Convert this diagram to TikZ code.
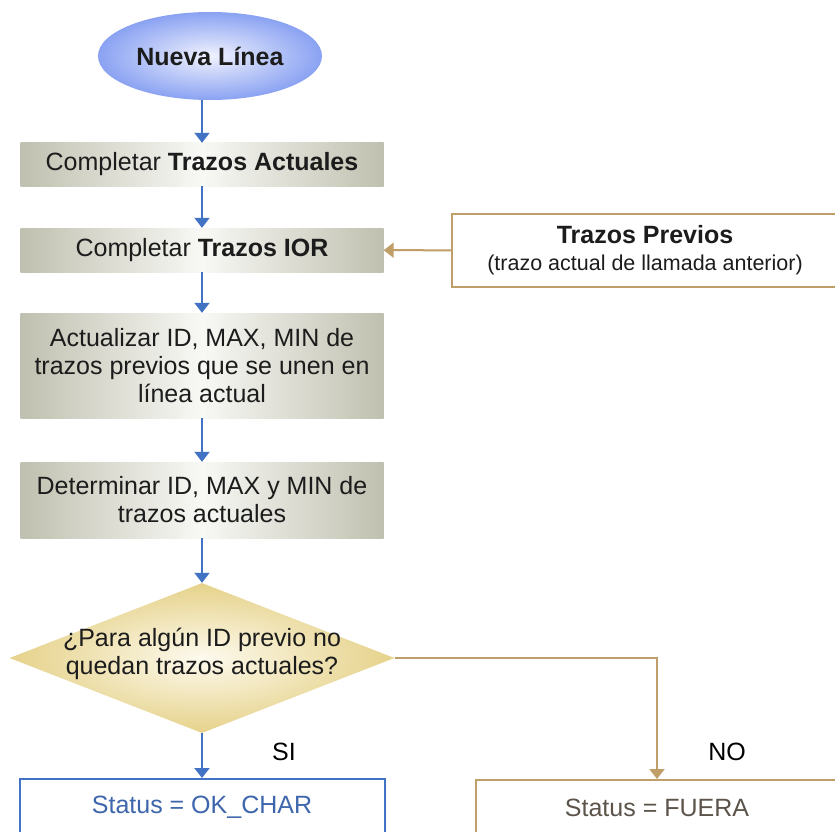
\documentclass[tikz,border=0pt]{standalone}
\usepackage{fontspec}
\setmainfont{Liberation Sans}
\usetikzlibrary{shapes.geometric,arrows.meta}

\definecolor{flowblue}{RGB}{66,114,196}
\definecolor{flowtan}{RGB}{192,158,104}
\definecolor{boxgray}{RGB}{192,192,176}
\definecolor{boxlight}{RGB}{248,248,245}
\definecolor{ellout}{RGB}{138,162,242}
\definecolor{ellin}{RGB}{240,242,254}
\definecolor{diaout}{RGB}{230,210,138}
\definecolor{diain}{RGB}{253,250,238}
\definecolor{oktext}{RGB}{62,102,172}
\definecolor{fueratext}{RGB}{92,84,74}
\definecolor{darktext}{RGB}{28,28,28}

\tikzset{
  maintext/.style={font=\fontsize{25}{28}\selectfont, text=darktext},
  startnode/.style={ellipse, minimum width=224pt, minimum height=88pt, inner sep=0pt,
    inner color=ellin, outer color=ellout, maintext},
  procbox/.style={rectangle, minimum width=363pt, inner sep=0pt, align=center,
    left color=boxgray, right color=boxgray, middle color=boxlight, maintext},
  decision/.style={diamond, minimum width=385pt, minimum height=150pt, inner sep=0pt,
    inner color=diain, outer color=diaout},
  okbox/.style={rectangle, draw=flowblue, line width=2pt, fill=white, inner sep=0pt,
    maintext, text=oktext},
  tanbox/.style={rectangle, draw=flowtan, line width=2pt, fill=white, inner sep=0pt,
    maintext, align=center},
  bluearrow/.style={draw=flowblue, line width=2pt, -{Triangle[width=15pt,length=10pt]}},
  tanarrow/.style={draw=flowtan, line width=2pt, -{Triangle[width=15pt,length=10pt]}},
  branchlabel/.style={maintext, text=black}
}

\begin{document}
\begin{tikzpicture}[x=1pt,y=-1pt]
  \useasboundingbox (0,0) rectangle (835,832);
  \clip (0,0) rectangle (835,832);
  \fill[white] (0,0) rectangle (835,832);

  % main column
  \node[startnode] (start) at (210,56) {\textbf{Nueva Línea}};
  \node[procbox, minimum height=43pt] (b1) at (202,164.5) {Completar \textbf{Trazos Actuales}};
  \node[procbox, minimum height=44pt] (b2) at (202,250) {Completar \textbf{Trazos IOR}};
  \node[procbox, minimum height=105pt] (b3) at (202,365.5)
    {Actualizar ID, MAX, MIN de\\trazos previos que se unen en\\línea actual};
  \node[procbox, minimum height=76pt] (b4) at (202,500)
    {Determinar ID, MAX y MIN de\\trazos actuales};

  % side input
  \node[tanbox, minimum width=386pt, minimum height=73pt] (prev) at (645,250.5)
    {\textbf{Trazos Previos}\\[-1pt]{\fontsize{21.5}{25}\selectfont (trazo actual de llamada anterior)}};

  % decision
  \node[decision] (dec) at (202,658) {};
  \node[maintext, align=center] (dectext) at (202,654)
    {¿Para algún ID previo no\\quedan trazos actuales?};

  % outcomes
  \node[okbox, minimum width=365pt, minimum height=56pt] (ok) at (202,807) {Status = OK\_CHAR};
  \node[tanbox, minimum width=362pt, minimum height=56pt, text=fueratext] (out) at (657,808) {Status = FUERA};

  % branch labels
  \node[branchlabel] (si) at (284,752) {SI};
  \node[branchlabel] (no) at (727,752) {NO};

  % connectors
  \draw[bluearrow] (start.south -| b1.north) -- (b1.north);
  \draw[bluearrow] (b1) -- (b2);
  \draw[bluearrow] (b2) -- (b3);
  \draw[bluearrow] (b3) -- (b4);
  \draw[bluearrow] (b4) -- (dec);
  \draw[tanarrow] (prev) -- (b2);
  \draw[bluearrow] (dec) -- (ok);
  \draw[tanarrow] (dec.east) -| (out.north);
\end{tikzpicture}
\end{document}
